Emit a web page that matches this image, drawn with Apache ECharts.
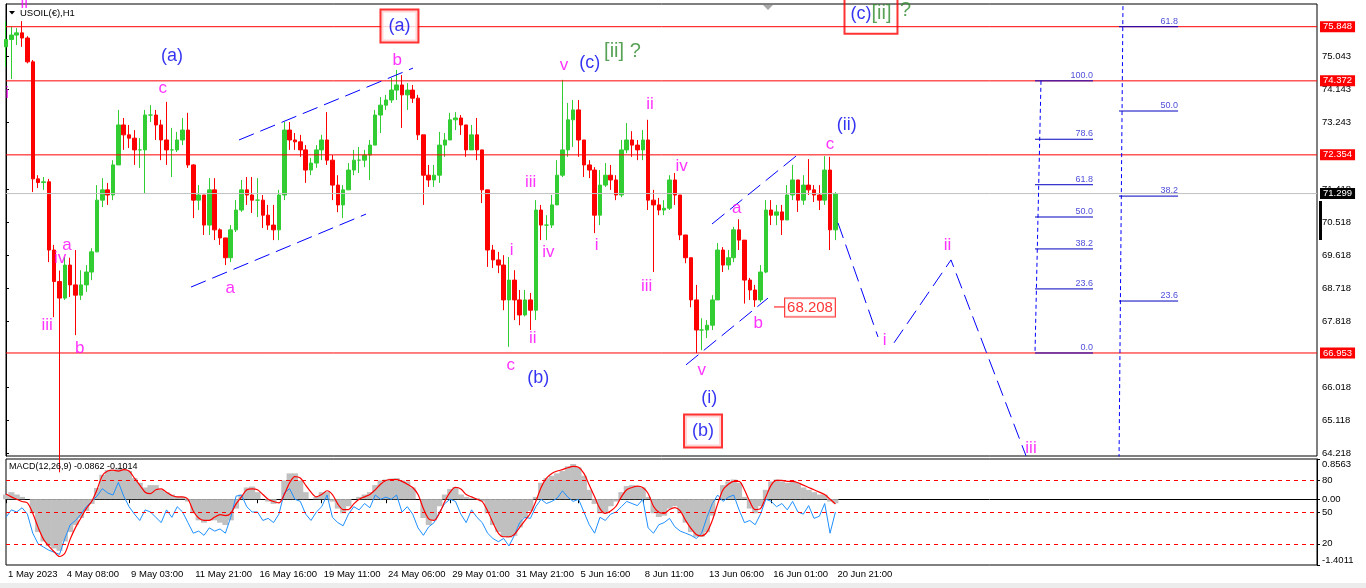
<!DOCTYPE html>
<html><head><meta charset="utf-8">
<script src="https://cdn.jsdelivr.net/npm/echarts@6/dist/echarts.min.js"></script>
<style>html,body{margin:0;padding:0;background:#fff}#c{width:1366px;height:588px}</style>
</head><body><div id="c"></div>
<script>
// ---------------- data ----------------
const xTickLabels = ['1 May 2023','4 May 08:00','9 May 03:00','11 May 21:00','16 May 16:00','19 May 11:00','24 May 06:00','29 May 01:00','31 May 21:00','5 Jun 16:00','8 Jun 11:00','13 Jun 06:00','16 Jun 01:00','20 Jun 21:00'];
const firstOpen = 75.30;
const closes = [75.50,75.62,75.68,75.54,74.89,71.70,71.60,71.62,69.76,68.90,
68.45,69.35,68.81,68.53,68.81,69.16,69.71,71.12,71.40,71.26,
72.08,73.17,72.90,72.81,72.49,72.49,73.44,73.44,73.17,72.76,
72.49,72.49,72.76,73.03,72.08,71.12,71.26,70.44,71.40,70.31,
70.09,69.55,70.31,70.85,71.40,71.26,71.12,71.12,70.71,70.44,
70.31,71.26,73.03,72.76,72.71,72.49,71.94,72.13,72.49,72.76,
72.21,71.53,70.99,71.40,71.94,72.21,72.21,72.35,72.62,73.44,
73.71,73.85,74.12,74.26,73.99,74.12,73.90,72.90,71.80,71.67,
71.80,72.62,72.76,73.31,73.36,73.17,72.49,72.90,72.49,71.40,
69.76,69.49,69.35,68.40,68.94,68.40,67.99,68.40,68.12,70.85,
70.44,70.44,70.99,71.80,72.49,73.31,73.58,72.76,72.08,71.94,
70.71,71.53,71.80,71.67,71.26,72.49,72.76,72.62,72.49,72.76,
71.12,70.99,70.85,70.90,71.67,71.26,70.17,69.55,68.40,67.58,
67.58,67.71,68.40,69.76,69.35,69.55,70.31,70.03,68.94,68.67,
68.40,69.16,70.85,70.71,70.80,70.58,71.26,71.67,71.12,71.53,
71.40,71.26,71.12,71.94,70.31,71.30];
const highs = [76.00,75.84,75.81,76.00,75.59,74.94,71.80,71.75,71.70,69.90,
69.20,69.57,69.55,69.76,69.21,69.35,69.81,71.53,71.72,71.59,
72.21,73.58,73.36,73.17,73.03,72.81,73.58,73.71,73.58,73.31,
73.80,73.09,72.98,73.36,73.50,72.10,71.53,71.26,71.72,71.72,
70.35,70.09,70.44,71.12,71.67,71.75,71.75,71.72,71.26,70.99,
70.99,71.40,73.25,73.25,72.95,72.90,72.62,72.27,72.62,72.90,
73.52,72.35,71.80,71.53,72.13,72.49,72.57,72.49,72.76,73.58,
73.93,73.99,74.45,74.67,74.53,74.31,74.26,73.99,72.90,72.08,
72.08,72.98,72.95,73.50,73.52,73.44,73.17,73.17,73.36,72.49,
71.40,69.90,69.71,69.62,69.57,69.21,68.67,68.67,68.59,71.12,
70.99,70.71,71.26,72.21,74.40,73.77,73.85,73.85,72.76,72.21,
72.02,71.94,72.13,72.08,71.80,72.76,73.22,73.00,72.76,73.03,
73.31,71.40,71.18,71.12,71.80,71.86,71.26,70.17,69.55,68.81,
67.90,67.85,68.53,69.95,69.84,69.76,70.39,70.60,70.03,69.00,
68.81,69.35,71.12,71.12,70.99,70.99,71.53,72.08,71.67,71.80,
72.24,71.53,71.53,72.32,72.30,71.34];
const lows = [74.75,74.42,75.35,75.30,74.85,71.34,71.45,71.40,69.43,67.93,
63.70,68.40,68.48,67.44,68.40,68.62,68.94,69.70,70.93,70.99,
71.12,72.08,72.49,72.54,72.08,72.00,71.31,73.25,72.76,72.21,
72.08,71.75,72.43,72.62,72.00,70.63,70.85,70.17,70.17,70.03,
69.90,69.35,69.43,70.25,70.80,70.99,70.77,70.66,70.36,70.31,
70.03,70.03,71.12,72.49,72.49,72.30,71.59,71.80,72.00,72.21,
72.08,71.12,70.79,70.63,71.40,71.80,71.86,72.02,71.67,72.62,
72.95,73.58,73.77,73.85,73.09,73.58,73.77,72.76,70.99,71.48,
71.48,71.59,72.30,72.76,73.03,72.90,72.30,72.49,72.21,71.04,
69.30,69.27,69.13,68.12,67.12,67.85,67.71,67.95,67.58,67.85,
70.03,70.03,70.36,70.99,71.75,72.30,72.57,72.30,71.75,71.72,
70.22,70.44,71.48,71.40,71.12,71.20,72.40,72.30,72.21,72.21,
70.85,69.16,70.71,70.71,70.85,70.99,70.03,69.40,68.20,66.95,
67.03,67.36,67.58,68.40,69.16,69.22,69.43,69.76,68.30,68.40,
68.21,68.34,69.13,70.44,70.44,70.17,70.58,71.12,70.80,70.99,
71.26,71.07,70.85,70.99,69.76,70.03];
const macdMain = [0.10,0.15,0.10,0.05,0.00,-0.30,-0.70,-0.90,-1.00,-1.05,
-1.10,-0.90,-0.70,-0.55,-0.40,-0.25,-0.10,0.24,0.52,0.62,
0.60,0.67,0.66,0.60,0.45,0.35,0.25,0.30,0.30,0.20,
0.15,0.10,0.05,0.05,-0.05,-0.30,-0.45,-0.50,-0.45,-0.45,
-0.50,-0.55,-0.45,-0.20,0.10,0.25,0.27,0.15,0.00,-0.05,
-0.10,0.00,0.40,0.55,0.55,0.40,0.15,0.00,0.05,0.15,
0.15,-0.05,-0.20,-0.30,-0.15,0.00,0.05,0.10,0.15,0.30,
0.40,0.42,0.44,0.45,0.40,0.38,0.25,0.00,-0.40,-0.55,
-0.45,-0.15,0.10,0.22,0.26,0.10,0.05,0.02,0.02,-0.05,
-0.30,-0.55,-0.70,-0.80,-0.82,-0.78,-0.60,-0.40,-0.25,0.05,
0.35,0.45,0.50,0.55,0.60,0.70,0.75,0.68,0.50,0.20,
-0.10,-0.30,-0.30,-0.15,-0.05,0.15,0.28,0.30,0.28,0.25,
0.05,-0.30,-0.38,-0.35,-0.20,-0.15,-0.30,-0.50,-0.70,-0.80,
-0.80,-0.70,-0.35,0.00,0.30,0.38,0.42,0.35,0.05,-0.20,
-0.30,-0.15,0.20,0.38,0.42,0.38,0.35,0.40,0.35,0.25,
0.20,0.15,0.10,0.10,-0.05,-0.0862];
const macdSignal = [0.11,0.05,0.00,-0.05,-0.08,-0.30,-0.60,-0.85,-1.00,-1.12,
-1.22,-1.15,-0.85,-0.60,-0.40,-0.20,-0.05,0.20,0.50,0.60,
0.62,0.60,0.63,0.60,0.45,0.30,0.15,0.12,0.20,0.22,
0.15,0.08,0.05,0.05,0.00,-0.25,-0.40,-0.45,-0.45,-0.38,
-0.33,-0.35,-0.30,-0.10,0.05,0.20,0.22,0.20,0.10,0.00,
-0.05,-0.08,0.10,0.35,0.48,0.45,0.30,0.15,0.05,0.10,
0.18,0.10,-0.10,-0.22,-0.22,-0.10,0.00,0.05,0.10,0.20,
0.32,0.40,0.42,0.42,0.38,0.32,0.25,0.10,-0.20,-0.42,
-0.45,-0.30,-0.05,0.15,0.25,0.22,0.10,0.05,0.00,-0.05,
-0.25,-0.50,-0.72,-0.80,-0.80,-0.75,-0.60,-0.45,-0.30,-0.05,
0.25,0.45,0.55,0.60,0.63,0.67,0.70,0.68,0.55,0.30,
0.05,-0.20,-0.30,-0.25,-0.15,0.05,0.20,0.25,0.28,0.25,
0.12,-0.15,-0.28,-0.30,-0.22,-0.18,-0.25,-0.45,-0.62,-0.75,
-0.78,-0.70,-0.45,-0.10,0.20,0.32,0.38,0.38,0.20,-0.05,
-0.22,-0.20,0.05,0.30,0.40,0.40,0.38,0.38,0.35,0.30,
0.25,0.20,0.15,0.10,0.00,-0.1014];
const oscLine = [45,52,50,54,48,30,20,17,14,12,10,25,38,42,48,55,60,65,72,68,
66,78,65,55,48,42,52,50,45,40,52,45,55,50,40,30,32,28,35,32,
34,30,45,65,66,55,50,50,42,44,40,48,68,72,62,60,48,42,50,55,
66,45,40,37,48,55,52,58,54,66,62,64,62,66,50,55,48,35,28,36,
40,50,58,62,60,48,40,52,45,40,30,25,22,25,18,28,40,45,44,55,
62,58,60,63,70,64,60,62,50,38,30,45,42,48,50,55,60,58,56,62,
35,30,38,40,44,36,32,30,28,25,30,45,58,66,60,64,66,52,40,42,
38,48,62,60,55,58,52,60,50,48,56,44,46,58,30,50];
const priceTicks = [75.043,74.143,73.243,71.418,70.518,69.618,68.718,67.818,66.018,65.118,64.218];
const levelLines = [75.848,74.372,72.354,66.953];
const currentPrice = 71.299;
const bLow = 68.208;
const macdTicks = [0.8563,0,-1.4011];
const oscLevels = [80,50,20];
const fibLeftLabels = ['100.0','78.6','61.8','50.0','38.2','23.6','0.0'];
const fibLeftPrices = [74.372,72.78,71.54,70.66,69.79,68.70,66.953];
const fibRightLabels = ['61.8','50.0','38.2','23.6'];
const fibRightPrices = [75.848,73.55,71.23,68.37];

// ---------------- annotations (slot index, price) ----------------
const waveLabels = [
 ['i',0.2,74.04,'m'],['ii',3.4,76.49,'m'],['(a)',31.0,75.05,'b'],['c',29.3,74.18,'m'],
 ['iii',7.7,67.72,'m'],['iv',10.1,69.54,'m'],['a',11.4,69.90,'m'],['b',13.8,67.09,'m'],
 ['a',41.9,68.72,'m'],['b',73.1,74.94,'m'],['v',104.3,74.80,'m'],['(c)',109.1,74.85,'b'],
 ['[ii] ?',115.2,75.16,'g'],['iii',98.05,71.60,'m'],['ii',120.35,73.74,'m'],['iv',126.27,72.05,'m'],
 ['a',136.55,70.90,'m'],['c',153.99,72.65,'m'],['(ii)',157.11,73.17,'b'],['i',94.5,69.76,'m'],
 ['iv',101.35,69.71,'m'],['i',110.39,69.90,'m'],['iii',119.73,68.78,'m'],['c',94.31,66.61,'m'],
 ['ii',98.43,67.34,'m'],['(b)',99.48,66.28,'b'],['b',140.59,67.76,'m'],['v',130.01,66.49,'m'],
 ['(i)',131.44,65.72,'b'],['i',164.18,67.31,'m'],['ii',175.93,69.90,'m'],['iii',191.55,64.35,'m'],
 ['?',168.1,76.30,'g']
];
const boxedLabels = [['(a)',73.53,75.87],['(b)',130.26,64.825]];
const topBox = [161.65,76.23];
const channelLines = [
 [[34.57,68.75],[67.28,70.74]],
 [[43.54,72.76],[76.06,74.72]],
 [[127.08,66.63],[142.40,68.45]],
 [[131.94,70.47],[147.64,72.32]],
 [[155.48,70.50],[162.96,67.39]],
 [[165.95,67.23],[176.60,69.49],[190.62,64.15]]
];
const fibLeftX = [192.30,203.14], fibRightX = [208.0,219.04];
const fibLeftDiag = [[193.42,74.372],[192.30,66.953]];
const fibRightDiag = [[208.75,76.6],[208.0,64.0]];
const bTag = [150.25,68.19], bTagLead = [143.52,145.39];

// ---------------- build ----------------
const N_SLOTS = 246;
const slotLabel = {};
slotLabel[0] = xTickLabels[0];
for (let k = 1; k < xTickLabels.length; k++) slotLabel[11 + 12 * (k - 1)] = xTickLabels[k];
const cats = Array.from({length: N_SLOTS}, (_, i) => String(i));
const candles = closes.map((c, i) => [i === 0 ? firstOpen : closes[i - 1], c, lows[i], highs[i]]);

const FONT = 'Liberation Sans';
const COL = {m:'#ff00ff', b:'#0000ee', g:'#2e8b2e'};
const SIZE = {m:17, b:18, g:20};
const RED = '#ff0000';

function seg(pts, ls, z) {
  return {type:'line', xAxisIndex:2, yAxisIndex:0, data:pts, symbol:'none', silent:true,
          lineStyle:ls, z:z || 4, animation:false};
}
function hLine(price, color, bg) {
  return {type:'line', xAxisIndex:2, yAxisIndex:0, data:[[0,price],[N_SLOTS-1,price]], symbol:'none', silent:true,
    lineStyle:{color:color, width:1, type:'solid'}, z:3, animation:false,
    endLabel:{show:true, formatter:price.toFixed(3), color:'#fff', backgroundColor:bg, distance:3,
      padding:[1,3,0,3], fontSize:9.5, fontFamily:FONT}};
}
const series = [];
series.push({
  type:'candlestick', xAxisIndex:0, yAxisIndex:0, data:candles, barWidth:4, clip:true, z:2,
  itemStyle:{color:'#32cd32', color0:RED, borderColor:'#32cd32', borderColor0:RED, borderWidth:1}
});
levelLines.forEach(v => series.push(hLine(v, RED, RED)));
series.push(hLine(currentPrice, '#c0c0c0', '#000'));
const dash = {color:'#0000ff', width:1, type:[16,7]};
channelLines.forEach(p => series.push(seg(p, dash)));
const dot = {color:'#0000ff', width:1, type:[4,3]};
series.push(seg(fibLeftDiag, dot));
series.push(seg(fibRightDiag, dot));
const fibSolid = {color:'#0000c0', width:1, type:'solid'};
fibLeftPrices.forEach(p => series.push(seg([[fibLeftX[0],p],[fibLeftX[1],p]], fibSolid)));
fibRightPrices.forEach(p => series.push(seg([[fibRightX[0],p],[fibRightX[1],p]], fibSolid)));
series.push(seg([[bTagLead[0],bLow],[bTagLead[1],bLow]], {color:RED, width:1, type:'solid'}, 5));

const labelItems = [];
waveLabels.forEach(([t,x,y,k]) => labelItems.push({value:[x,y], label:{show:true, position:'inside', formatter:t,
  color:COL[k], fontSize:SIZE[k], fontFamily:FONT}}));
boxedLabels.forEach(([t,x,y]) => labelItems.push({value:[x,y], label:{show:true, position:'inside', formatter:t,
  color:COL.b, fontSize:18, fontFamily:FONT, borderColor:RED, borderWidth:2, padding:[7,7,6,7], backgroundColor:'#fff'}}));
labelItems.push({value:topBox, label:{show:true, position:'inside', formatter:'{b|(c)}{g|[ii]}',
  rich:{b:{color:COL.b, fontSize:18, fontFamily:FONT}, g:{color:COL.g, fontSize:20, fontFamily:FONT}},
  borderColor:RED, borderWidth:2, padding:[12,6,10,6]}});
labelItems.push({value:bTag, label:{show:true, position:'inside', formatter:bLow.toFixed(3), color:RED,
  fontSize:15, fontFamily:FONT, borderColor:RED, borderWidth:1, padding:[2,2,1,2], backgroundColor:'#fff'}});
fibLeftLabels.forEach((t,i) => labelItems.push({value:[fibLeftX[1], fibLeftPrices[i]], label:{show:true, position:[0,0],
  align:'right', verticalAlign:'bottom', offset:[0,-1], formatter:t, color:'#2020d0', fontSize:9, fontFamily:FONT}}));
fibRightLabels.forEach((t,i) => labelItems.push({value:[fibRightX[1], fibRightPrices[i]], label:{show:true, position:[0,0],
  align:'right', verticalAlign:'bottom', offset:[0,-1], formatter:t, color:'#2020d0', fontSize:9, fontFamily:FONT}}));
series.push({type:'scatter', xAxisIndex:2, yAxisIndex:0, symbolSize:0.1, itemStyle:{color:'transparent'},
  silent:true, clip:false, z:8, data:labelItems, animation:false});

// MACD panel
series.push({type:'bar', xAxisIndex:1, yAxisIndex:1, data:macdMain, barWidth:6, itemStyle:{color:'#c0c0c0'}, silent:true});
series.push({type:'line', xAxisIndex:1, yAxisIndex:1, data:macdSignal, symbol:'none', smooth:0.3, silent:true,
  lineStyle:{color:RED, width:1.2}, z:4});
series.push({type:'line', xAxisIndex:1, yAxisIndex:2, data:oscLine, symbol:'none', silent:true,
  lineStyle:{color:'#1e90ff', width:1}, z:3,
  markLine:{symbol:'none', silent:true, animation:false, label:{show:false},
    data: oscLevels.map(v => ({yAxis:v})), lineStyle:{color:RED, width:1, type:[4,4]}}});

const axisLabelBase = {color:'#000', fontSize:9.5, fontFamily:FONT};
const option = {
  animation:false,
  backgroundColor:'#fff',
  textStyle:{fontFamily:FONT},
  grid:[
    {left:6, right:49, top:4, height:452, show:true, borderColor:'#000', borderWidth:1, backgroundColor:'#fff'},
    {left:6, right:49, top:459, height:106, show:true, borderColor:'#000', borderWidth:1, backgroundColor:'#fff'}
  ],
  xAxis:[
    {type:'category', gridIndex:0, data:cats, boundaryGap:false, axisLabel:{show:false}, axisTick:{show:false},
     axisLine:{show:false}, splitLine:{show:false}},
    {type:'category', gridIndex:1, data:cats, boundaryGap:false, splitLine:{show:false},
     axisLine:{show:true, lineStyle:{color:'#000'}},
     axisTick:{show:true, length:4, interval:(i) => slotLabel[i] !== undefined, lineStyle:{color:'#000'}},
     axisLabel:Object.assign({show:true, interval:(i) => slotLabel[i] !== undefined, formatter:(v,i) => slotLabel[i] || '',
       align:'left', margin:4, padding:[0,0,0,2]}, axisLabelBase)},
    {type:'value', gridIndex:0, min:0, max:N_SLOTS - 1, show:false}
  ],
  yAxis:[
    {type:'value', gridIndex:0, position:'right', min:64.145, max:76.467, splitLine:{show:false},
     axisLine:{show:true, lineStyle:{color:'#000'}},
     axisTick:{show:true, length:3, customValues:priceTicks, lineStyle:{color:'#000'}},
     axisLabel:Object.assign({customValues:priceTicks, formatter:v => v.toFixed(3), margin:5}, axisLabelBase)},
    {type:'value', gridIndex:1, position:'right', min:-1.4011, max:0.8563, splitLine:{show:false},
     axisLine:{show:true, lineStyle:{color:'#000'}},
     axisTick:{show:true, length:3, customValues:macdTicks, lineStyle:{color:'#000'}},
     axisLabel:Object.assign({customValues:macdTicks, formatter:v => Math.abs(v) < 1e-9 ? '0.00' : v.toFixed(4), margin:5,
       verticalAlignMaxLabel:'bottom', verticalAlignMinLabel:'top'}, axisLabelBase)},
    {type:'value', gridIndex:1, position:'right', min:0, max:100, splitLine:{show:false},
     axisLine:{show:false},
     axisTick:{show:true, length:3, customValues:oscLevels, lineStyle:{color:'#000'}},
     axisLabel:Object.assign({customValues:oscLevels, margin:5}, axisLabelBase)}
  ],
  graphic:[
    {type:'polygon', shape:{points:[[9,11],[15,11],[12,14.5]]}, style:{fill:'#000'}, z:100},
    {type:'text', left:20, top:8, style:{text:'USOIL(€),H1', font:'9.5px "Liberation Sans"', fill:'#000'}, z:100},
    {type:'text', left:9, top:462, style:{text:'MACD(12,26,9) ' + macdMain[macdMain.length-1].toFixed(4) + ' ' + macdSignal[macdSignal.length-1].toFixed(4),
      font:'9px "Liberation Sans"', fill:'#000'}, z:100},
    {type:'polygon', shape:{points:[[763,5],[773,5],[768,10]]}, style:{fill:'#a8a8a8'}, z:100},
    {type:'rect', shape:{x:1319, y:201, width:3, height:39}, style:{fill:'#000'}, z:100},
    {type:'rect', shape:{x:0, y:583, width:1366, height:5}, style:{fill:'#ececec'}, z:100}
  ],
  series:series
};
const chart = echarts.init(document.getElementById('c'), null, {renderer:'canvas'});
chart.setOption(option);
</script>
</body></html>
